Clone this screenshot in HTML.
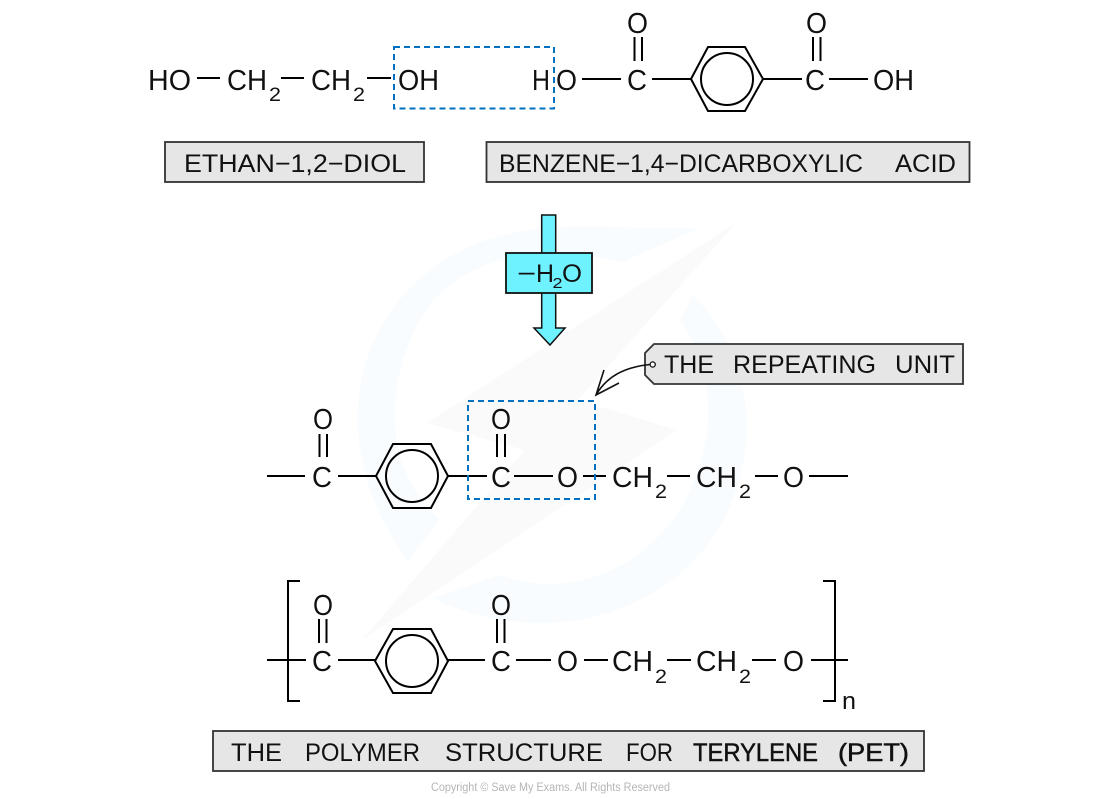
<!DOCTYPE html>
<html><head><meta charset="utf-8"><style>
html,body{margin:0;padding:0;background:#fff}
svg{display:block}
text{font-family:"Liberation Sans",sans-serif;fill:#111}
.m{font-size:29px}
.s{font-size:19px}
.l{font-size:25px}
.b{stroke:#000;stroke-width:2;fill:none}
.h{stroke:#111;stroke-width:.5}
</style></head><body>
<svg width="1100" height="799" viewBox="0 0 1100 799" xmlns="http://www.w3.org/2000/svg">
<!-- watermark -->
<path d="M408 561C340 470 335 345 430 270C510 208 610 232 700 228L622 262C550 245 460 250 420 320C382 390 385 470 440 520Z" fill="#f9fcfe"/>
<path d="M693 295C765 365 765 490 690 565C620 630 520 640 432 598L500 575C570 600 640 570 680 510C720 440 715 370 680 320Z" fill="#f9fcfe"/>
<path d="M737 222L427 423L525 450L362 640L677 430L578 400Z" fill="#fafafa"/>

<!-- row 1 -->
<g class="b">
<path d="M197 78H220M281 78H304M367 78H391M582 79H621M652 79H691M763 79H802M829 79H868"/>
<path d="M634.500 37V61M642 37V61M813 37V61M820.500 37V61"/>
<path d="M691 79L708 47H745L763 79L745 111H708Z"/>
<circle cx="727" cy="79" r="26"/>
</g>
<text class="m" x="148" y="90" textLength="43" lengthAdjust="spacingAndGlyphs">HO</text>
<text class="m" x="227" y="90" textLength="40" lengthAdjust="spacingAndGlyphs">CH</text>
<text class="s" x="269" y="101" textLength="12" lengthAdjust="spacingAndGlyphs">2</text>
<text class="m" x="311" y="90" textLength="40" lengthAdjust="spacingAndGlyphs">CH</text>
<text class="s" x="353" y="101" textLength="12" lengthAdjust="spacingAndGlyphs">2</text>
<text class="m" x="398" y="90" textLength="41" lengthAdjust="spacingAndGlyphs">OH</text>
<text class="m" x="532" y="90" textLength="18" lengthAdjust="spacingAndGlyphs">H</text>
<text class="m" x="556" y="90" textLength="21" lengthAdjust="spacingAndGlyphs">O</text>
<text class="m" x="627" y="90" textLength="20" lengthAdjust="spacingAndGlyphs">C</text>
<text class="m" x="627" y="33" textLength="21" lengthAdjust="spacingAndGlyphs">O</text>
<text class="m" x="805" y="90" textLength="20" lengthAdjust="spacingAndGlyphs">C</text>
<text class="m" x="806" y="33" textLength="21" lengthAdjust="spacingAndGlyphs">O</text>
<text class="m" x="873" y="90" textLength="41" lengthAdjust="spacingAndGlyphs">OH</text>
<rect x="394" y="47" width="160" height="61.500" fill="none" stroke="#0070c0" stroke-width="2" stroke-dasharray="6 4"/>

<!-- labels -->
<rect x="165" y="142" width="259" height="40" fill="#e6e6e6" stroke="#333" stroke-width="1.800"/>
<text class="l" x="184" y="172" textLength="222" lengthAdjust="spacingAndGlyphs">ETHAN−1,2−DIOL</text>
<rect x="486.500" y="142" width="483" height="40" fill="#e6e6e6" stroke="#333" stroke-width="1.800"/>
<text class="l" x="499" y="172" textLength="364" lengthAdjust="spacingAndGlyphs">BENZENE−1,4−DICARBOXYLIC</text>
<text class="l" x="895" y="172" textLength="61" lengthAdjust="spacingAndGlyphs">ACID</text>

<!-- arrow -->
<path d="M541.700 215H555.700V328H565L550 345L534 328H541.700Z" fill="#6ff2ff" stroke="#111" stroke-width="1.500"/>
<rect x="506" y="253" width="86" height="40" fill="#6ff2ff" stroke="#111" stroke-width="1.800"/>
<text class="l" x="517" y="282" textLength="19" lengthAdjust="spacingAndGlyphs">−</text>
<text class="l" x="536" y="282" textLength="18" lengthAdjust="spacingAndGlyphs">H</text>
<text x="552.500" y="288" font-size="15" textLength="10" lengthAdjust="spacingAndGlyphs">2</text>
<text class="l" x="562" y="282" textLength="20" lengthAdjust="spacingAndGlyphs">O</text>

<!-- tag -->
<path d="M654 344H963V384H654L645 375V353Z" fill="#e6e6e6" stroke="#333" stroke-width="1.800"/>
<circle cx="652.700" cy="364.500" r="2.600" fill="#fff" stroke="#111" stroke-width="1.300"/>
<text class="l" x="664" y="373" textLength="50" lengthAdjust="spacingAndGlyphs">THE</text>
<text class="l" x="733" y="373" textLength="143" lengthAdjust="spacingAndGlyphs">REPEATING</text>
<text class="l" x="895" y="373" textLength="60" lengthAdjust="spacingAndGlyphs">UNIT</text>
<path d="M650 364.500C625 367 607 376 596 395M604 370L596 395L619 383" fill="none" stroke="#111" stroke-width="1.600"/>

<!-- row 2 -->
<g class="b">
<path d="M267 476H305M338 476H376M448 476H487M514 476H553M583 476H606M667 476H690M755 476H778M809 476H848"/>
<path d="M319.500 434V457M327 434V457M497 434V457M505 434V457"/>
<path d="M376 476L393 444H431L448 476L431 508H393Z"/>
<circle cx="412" cy="476" r="26"/>
</g>
<text class="m" x="312" y="487" textLength="20" lengthAdjust="spacingAndGlyphs">C</text>
<text class="m" x="313" y="429" textLength="20" lengthAdjust="spacingAndGlyphs">O</text>
<text class="m" x="491" y="487" textLength="20" lengthAdjust="spacingAndGlyphs">C</text>
<text class="m" x="491" y="429" textLength="20" lengthAdjust="spacingAndGlyphs">O</text>
<text class="m" x="557" y="487" textLength="21" lengthAdjust="spacingAndGlyphs">O</text>
<text class="m" x="612" y="487" textLength="41" lengthAdjust="spacingAndGlyphs">CH</text>
<text class="s" x="655" y="498" textLength="12" lengthAdjust="spacingAndGlyphs">2</text>
<text class="m" x="696" y="487" textLength="41" lengthAdjust="spacingAndGlyphs">CH</text>
<text class="s" x="739" y="498" textLength="12" lengthAdjust="spacingAndGlyphs">2</text>
<text class="m" x="783" y="487" textLength="21" lengthAdjust="spacingAndGlyphs">O</text>
<rect x="468" y="401" width="127" height="98" fill="none" stroke="#0070c0" stroke-width="2" stroke-dasharray="6 4"/>

<!-- row 3 -->
<g class="b">
<path d="M300 581H288V701H300M823 581H835V701H823"/>
<path d="M267 660H306M338 660H375M448 660H485M516 660H551M584 660H608M667 660H691M752 660H776M811 660H848"/>
<path d="M319 619V643M326.500 619V643M497 619V643M504.500 619V643"/>
<path d="M375 661L393 629H431L448 661L431 693H393Z"/>
<circle cx="412" cy="661" r="26"/>
</g>
<text class="m" x="312" y="671" textLength="20" lengthAdjust="spacingAndGlyphs">C</text>
<text class="m" x="313" y="615" textLength="20" lengthAdjust="spacingAndGlyphs">O</text>
<text class="m" x="491" y="671" textLength="20" lengthAdjust="spacingAndGlyphs">C</text>
<text class="m" x="491" y="615" textLength="20" lengthAdjust="spacingAndGlyphs">O</text>
<text class="m" x="557" y="671" textLength="21" lengthAdjust="spacingAndGlyphs">O</text>
<text class="m" x="612" y="671" textLength="41" lengthAdjust="spacingAndGlyphs">CH</text>
<text class="s" x="655" y="683" textLength="12" lengthAdjust="spacingAndGlyphs">2</text>
<text class="m" x="696" y="671" textLength="41" lengthAdjust="spacingAndGlyphs">CH</text>
<text class="s" x="739" y="683" textLength="12" lengthAdjust="spacingAndGlyphs">2</text>
<text class="m" x="783" y="671" textLength="21" lengthAdjust="spacingAndGlyphs">O</text>
<text x="842" y="709" font-size="24" textLength="14" lengthAdjust="spacingAndGlyphs">n</text>

<!-- caption -->
<rect x="213" y="731" width="711" height="40" fill="#e6e6e6" stroke="#333" stroke-width="1.800"/>
<text class="l" x="231" y="761" textLength="51" lengthAdjust="spacingAndGlyphs">THE</text>
<text class="l" x="305" y="761" textLength="115" lengthAdjust="spacingAndGlyphs">POLYMER</text>
<text class="l" x="445" y="761" textLength="158" lengthAdjust="spacingAndGlyphs">STRUCTURE</text>
<text class="l" x="626" y="761" textLength="47" lengthAdjust="spacingAndGlyphs">FOR</text>
<text class="l h" x="693" y="761" textLength="125" lengthAdjust="spacingAndGlyphs">TERYLENE</text>
<text class="l h" x="838" y="761" textLength="71" lengthAdjust="spacingAndGlyphs">(PET)</text>
<text x="431" y="791" font-size="11.500" style="fill:#b5b5b5" textLength="239" lengthAdjust="spacingAndGlyphs">Copyright © Save My Exams. All Rights Reserved</text>
</svg>
</body></html>
